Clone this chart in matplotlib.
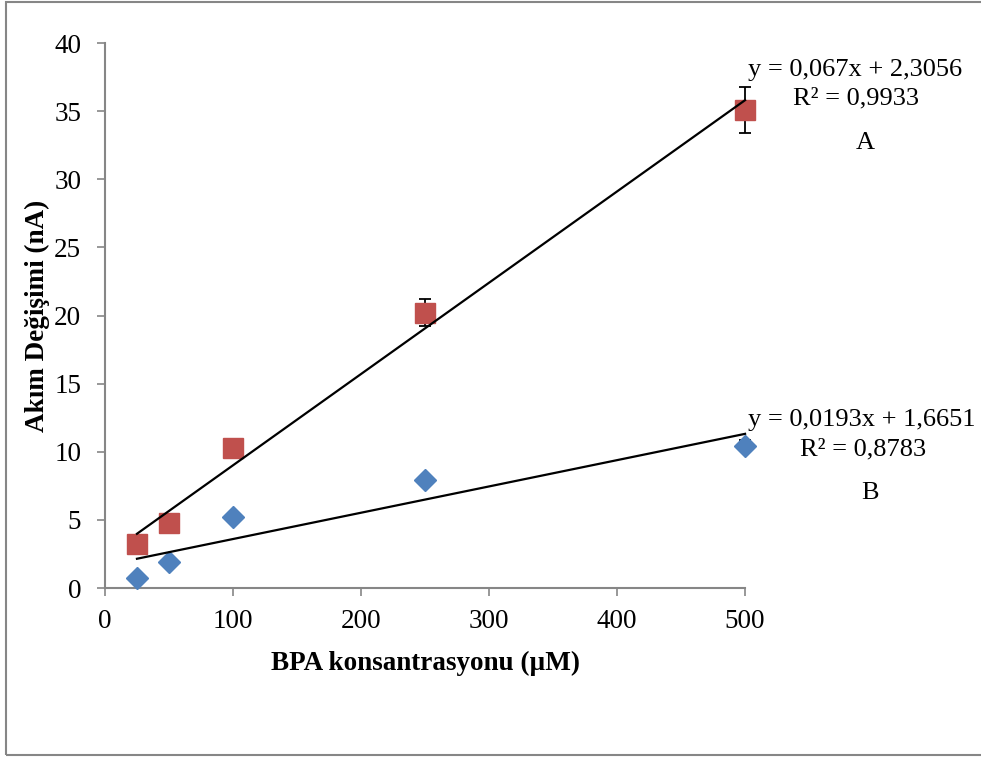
import matplotlib.pyplot as plt
from matplotlib.patches import Rectangle

conc = [25, 50, 100, 250, 500]
akim_a = [3.2, 4.8, 10.25, 20.2, 35.1]
err_a = [0.2, 0.2, 0.2, 1.0, 1.7]
akim_b = [0.7, 1.9, 5.23, 7.92, 10.44]
err_b = [0.1, 0.1, 0.2, 0.3, 0.4]

fit_a = (0.067, 2.3056)
fit_b = (0.0193, 1.6651)

plt.rcParams["font.family"] = ["Liberation Serif", "DejaVu Serif"]
grey = "#868686"

fig = plt.figure(figsize=(9.81, 7.6), dpi=100)
ax = fig.add_axes([0.107, 0.2263, 0.6525, 0.7171])

# outer frame of the chart area
fig.patches.append(Rectangle((6 / 981, 1 - 755 / 760), 1.2, 753 / 760,
                             transform=fig.transFigure, fill=False,
                             edgecolor=grey, linewidth=1.5))

ax.errorbar(conc, akim_a, yerr=err_a, fmt="s", color="#C0504D", ms=14.5,
            ecolor="black", elinewidth=1.3, capsize=4.5, capthick=1.3, zorder=3)
ax.errorbar(conc, akim_b, yerr=err_b, fmt="D", color="#4F81BD", ms=11,
            ecolor="black", elinewidth=1.3, capsize=4.5, capthick=1.3, zorder=3)

# linear trendlines
xs = [conc[0], conc[-1]]
ax.plot(xs, [fit_a[0] * x + fit_a[1] for x in xs], color="black", lw=1.6, zorder=4)
ax.plot(xs, [fit_b[0] * x + fit_b[1] for x in xs], color="black", lw=1.6, zorder=4)

ax.set_xlim(0, 500)
ax.set_ylim(0, 40)
ax.set_xticks(range(0, 501, 100))
ax.set_yticks(range(0, 41, 5))
ax.tick_params(direction="out", length=6, width=1.2, color=grey, labelsize=19.5)
ax.tick_params(axis="y", pad=11)
ax.tick_params(axis="x", pad=9)
ax.spines["top"].set_visible(False)
ax.spines["right"].set_visible(False)
for s in ("left", "bottom"):
    ax.spines[s].set_color(grey)
    ax.spines[s].set_linewidth(1.5)
for art in ax.lines + ax.collections:
    art.set_clip_on(False)

ax.set_xlabel("BPA konsantrasyonu (µM)", fontsize=19.5, fontweight="bold", labelpad=12)
ax.set_ylabel("Akım Değişimi (nA)", fontsize=19.5, fontweight="bold", labelpad=3)

fig.text(748 / 981, 1 - 70 / 760, "y = 0,067x + 2,3056", fontsize=19, va="center")
fig.text(793 / 981, 1 - 98 / 760, "R² = 0,9933", fontsize=19, va="center")
fig.text(865 / 981, 1 - 143 / 760, "A", fontsize=19, va="center", ha="center")
fig.text(748 / 981, 1 - 420 / 760, "y = 0,0193x + 1,6651", fontsize=19, va="center")
fig.text(800 / 981, 1 - 449 / 760, "R² = 0,8783", fontsize=19, va="center")
fig.text(870 / 981, 1 - 493 / 760, "B", fontsize=19, va="center", ha="center")

fig.savefig("out.png", dpi=100)
